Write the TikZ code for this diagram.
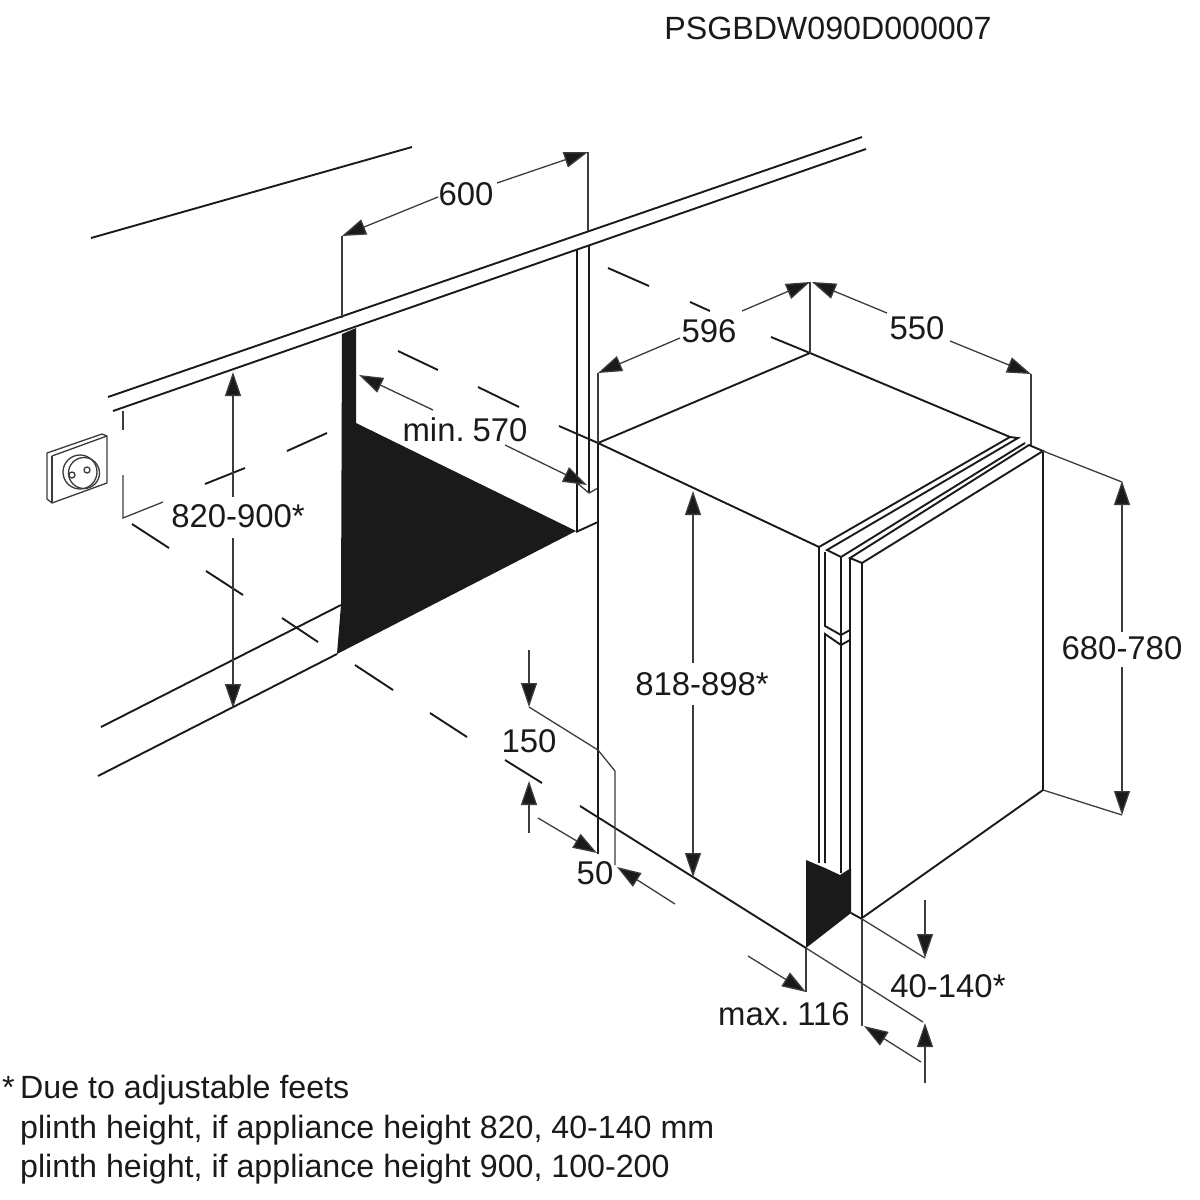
\documentclass[tikz,border=0pt]{standalone}
\usepackage{fontspec}
\setmainfont{Liberation Sans}
\usetikzlibrary{arrows.meta}
\definecolor{inkdark}{HTML}{1A1A1A}
\definecolor{inkgrey}{HTML}{3C3C3C}
\tikzset{
    edgeline/.style={line width=1.9bp, draw=inkdark},
    dimline/.style={line width=1.3bp, draw=inkgrey},
    dimtip/.style={dimline, -{Triangle[length=24bp,width=16bp,fill=inkdark]}},
    lbl/.style={inner sep=0pt, text=inkdark, font=\fontsize{33}{40}\selectfont},
    notelbl/.style={lbl, anchor=base west, font=\fontsize{32.3}{40}\selectfont}
}
\begin{document}
\begin{tikzpicture}[x=1bp, y=-1bp]
    \useasboundingbox (0,0) rectangle (1200,1200);

    % 1. Worktop and wall
    \draw[edgeline] (91,238) -- (412,147);
    \draw[edgeline] (108,397) -- (862,137);
    \draw[edgeline] (113,411) -- (866,149);

    % 2. Niche
    \fill[inkdark] (342,334) -- (356,328) -- (356,423) -- (576,531) -- (337,654) -- (341,605) -- cycle;
    \draw[edgeline] (101,727) -- (341,605);
    \draw[edgeline] (98,776) -- (337,654);
    \draw[edgeline] (577,250) -- (577,531);
    \draw[edgeline] (589,246) -- (589,493);
    \draw[dimline] (577,483) -- (589,493) -- (598,488);
    \draw[edgeline] (576,532) -- (598,522);

    % Socket on the wall
    \draw[dimline, fill=white, line join=round] (47,453) -- (102,434) -- (107,436) -- (107,483) -- (52,503) -- (47,499) -- cycle;
    \draw[dimline] (52,456) -- (107,436);
    \draw[dimline] (52,456) -- (52,503);
    \draw[dimline] (80,472) circle (17);
    \draw[dimline] (84,473) circle (15.5);
    \draw[dimline] (72,475) circle (3);
    \draw[dimline] (87,470) circle (3);

    % Hidden edges of the niche
    \draw[dimline] (123,411) -- (123,430);
    \draw[dimline] (123,475) -- (123,518) -- (163,502);
    \draw[edgeline] (205,484) -- (245,468);
    \draw[edgeline] (287,451) -- (327,433);
    \draw[edgeline] (132,524) -- (169,548);
    \draw[edgeline] (206,571) -- (243,595);
    \draw[edgeline] (282,618) -- (318,642);
    \draw[edgeline] (355,665) -- (393,690);
    \draw[edgeline] (430,713) -- (467,737);
    \draw[edgeline] (505,760) -- (542,783);
    \draw[edgeline] (398,351) -- (438,370);
    \draw[edgeline] (478,387) -- (519,407);
    \draw[edgeline] (608,268) -- (649,286);
    \draw[edgeline] (690,302) -- (710,311);
    \draw[edgeline] (771,337) -- (810,353);
    \draw[edgeline] (559,426) -- (598,443);

    % 3. Appliance body
    \draw[edgeline] (598,443) -- (810,353) -- (1010,437);
    \draw[edgeline] (598,443) -- (819,547);
    \draw[edgeline] (598,443) -- (598,854);
    \draw[edgeline] (580,806) -- (806,948);
    \draw[dimline] (806,948) -- (923,1022);

    % Door, seen as five strips
    \draw[edgeline] (819,547) -- (1010,437) -- (1018,438) -- (827,550) -- (841,557) -- (1025,443);
    \draw[edgeline] (850,558) -- (1029,445) -- (1043,451) -- (862,563) -- cycle;
    \draw[edgeline] (819,547) -- (819,863);
    \draw[edgeline] (825,552) -- (825,626) -- (841,635) -- (850,630);
    \draw[edgeline] (825,863) -- (825,634) -- (841,645) -- (850,640);
    \draw[edgeline] (841,557) -- (841,873);
    \draw[edgeline] (850,558) -- (850,913);
    \draw[edgeline] (862,563) -- (862,918);
    \draw[edgeline] (1043,451) -- (1043,790) -- (862,918);

    % Plinth
    \fill[inkdark] (806,860) -- (825,868) -- (840,875) -- (851,868) -- (851,913) -- (806,948) -- cycle;
    \draw[edgeline] (851,913) -- (862,919);
    \draw[dimline] (862,919) -- (925,958);

    % --- Dimension lines ---
    % 600
    \draw[dimline] (342,236) -- (342,318);
    \draw[dimline] (588,152) -- (588,231);
    \draw[dimtip] (438,197) -- (342,236);
    \draw[dimtip] (497,183) -- (588,152);
    \node[lbl] (widthniche) at (466,194) {600};

    % min. 570
    \draw[dimtip] (433,410) -- (359,375);
    \draw[dimtip] (505,445) -- (587,485);
    \node[lbl] (depthniche) at (465,430) {min.\hspace{0.24em}570};

    % 596
    \draw[dimline] (598,373) -- (598,443);
    \draw[dimline] (810,282) -- (810,353);
    \draw[dimtip] (680,338) -- (598,373);
    \draw[dimtip] (742,311) -- (810,282);
    \node[lbl] (widthbody) at (709,331) {596};

    % 550
    \draw[dimline] (1031,374) -- (1031,445);
    \draw[dimtip] (887,313) -- (812,282);
    \draw[dimtip] (950,341) -- (1031,374);
    \node[lbl] (depthbody) at (917,328) {550};

    % 680-780
    \draw[dimline] (1043,451) -- (1122,482);
    \draw[dimline] (1043,790) -- (1122,815);
    \draw[dimtip] (1122,632) -- (1122,481);
    \draw[dimtip] (1122,667) -- (1122,815);
    \node[lbl] (doorheight) at (1122,648) {680-780};

    % 820-900*
    \draw[dimtip] (233,497) -- (233,372);
    \draw[dimtip] (233,538) -- (233,708);
    \node[lbl] (nicheheight) at (238,516) {820-900*};

    % 818-898*
    \draw[dimtip] (693,663) -- (693,491);
    \draw[dimtip] (693,705) -- (693,877);
    \node[lbl] (bodyheight) at (702,684) {818-898*};

    % 150 and 50
    \draw[dimtip] (529,650) -- (529,707);
    \draw[dimtip] (529,833) -- (529,781);
    \draw[dimline] (529,707) -- (598,750) -- (615,771) -- (615,865);
    \draw[dimtip] (538,818) -- (597,853);
    \draw[dimtip] (675,904) -- (617,867);
    \node[lbl] (pipeheight) at (529,741) {150};
    \node[lbl] (pipewidth) at (595,873) {50};

    % 40-140* and max. 116
    \draw[dimtip] (925,900) -- (925,958);
    \draw[dimtip] (925,1083) -- (925,1023);
    \draw[dimline] (862,918) -- (862,1026);
    \draw[dimline] (806,948) -- (806,992);
    \draw[dimtip] (748,956) -- (806,992);
    \draw[dimtip] (921,1062) -- (864,1026);
    \node[lbl] (plinthheight) at (948,986) {40-140*};
    \node[lbl] (plinthdepth) at (784,1014) {max.\hspace{0.24em}116};

    % 4. Texts
    \node[lbl, font=\fontsize{32.3}{40}\selectfont] (partcode) at (828,28) {PSGBDW090D000007};
    \node[notelbl] (starmark) at (2,1098) {*};
    \node[notelbl] (noteone) at (20,1098) {Due to adjustable feets};
    \node[notelbl] (notetwo) at (20,1138) {plinth height, if appliance height 820, 40-140 mm};
    \node[notelbl] (notethree) at (20,1177) {plinth height, if appliance height 900, 100-200};
\end{tikzpicture}
\end{document}
